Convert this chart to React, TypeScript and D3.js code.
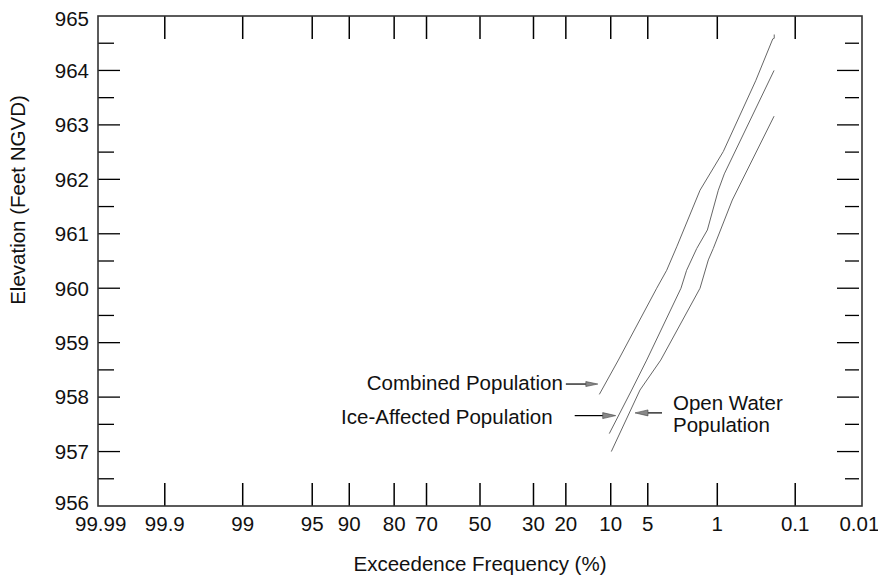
import * as d3 from 'd3';

// exceedance frequency (%) and elevation (ft NGVD)
const combinedFreq = [12.1, 8.75, 4.16, 3.36, 2.69, 1.55, 0.854, 0.344, 0.205, 0.196, 0.196];
const combinedElev = [958.05, 958.68, 960.0, 960.33, 960.76, 961.8, 962.51, 963.81, 964.58, 964.59, 964.66];

const iceFreq = [10.25, 6.85, 5.11, 2.44, 2.14, 1.68, 1.29, 0.974, 0.831, 0.197];
const iceElev = [957.33, 958.13, 958.68, 960.0, 960.33, 960.73, 961.07, 961.8, 962.1, 964.0];

const openFreq = [9.9, 5.84, 3.82, 1.55, 1.26, 1.11, 0.669, 0.197];
const openElev = [957.0, 958.13, 958.68, 960.0, 960.52, 960.73, 961.62, 963.16];

const xTicks = [99.99, 99.9, 99, 95, 90, 80, 70, 50, 30, 20, 10, 5, 1, 0.1, 0.01];
const yTicks = d3.range(956, 966, 1);
const yMinorTicks = d3.range(956.5, 965, 1);

const W = 878;
const H = 575;
const margin = { top: 16, right: 16, bottom: 69, left: 98 };
const font = 'Arial, "Liberation Sans", Helvetica, sans-serif';

// Acklam's inverse normal CDF, used for the probability axis
function invNorm(p: number): number {
  const a = [-39.69683028665376, 220.9460984245205, -275.9285104469687, 138.357751867269, -30.66479806614716, 2.506628277459239];
  const b = [-54.47609879822406, 161.5858368580409, -155.6989798598866, 66.80131188771972, -13.28068155288572];
  const c = [-0.007784894002430293, -0.3223964580411365, -2.400758277161838, -2.549732539343734, 4.374664141464968, 2.938163982698783];
  const d = [0.007784695709041462, 0.3224671290700398, 2.445134137142996, 3.754408661907416];
  const pl = 0.02425;
  if (p < pl) {
    const q = Math.sqrt(-2 * Math.log(p));
    return (((((c[0] * q + c[1]) * q + c[2]) * q + c[3]) * q + c[4]) * q + c[5]) /
      ((((d[0] * q + d[1]) * q + d[2]) * q + d[3]) * q + 1);
  }
  if (p > 1 - pl) {
    const q = Math.sqrt(-2 * Math.log(1 - p));
    return -(((((c[0] * q + c[1]) * q + c[2]) * q + c[3]) * q + c[4]) * q + c[5]) /
      ((((d[0] * q + d[1]) * q + d[2]) * q + d[3]) * q + 1);
  }
  const q = p - 0.5;
  const r = q * q;
  return (((((a[0] * r + a[1]) * r + a[2]) * r + a[3]) * r + a[4]) * r + a[5]) * q /
    (((((b[0] * r + b[1]) * r + b[2]) * r + b[3]) * r + b[4]) * r + 1);
}

const zOf = (freq: number) => invNorm(1 - freq / 100);

export default function App() {
  const x0 = margin.left;
  const x1 = W - margin.right;
  const y0 = margin.top;
  const y1 = H - margin.bottom;

  const zScale = d3.scaleLinear().domain([-3.745, 3.745]).range([x0, x1]);
  const x = (f: number) => zScale(zOf(f));
  const y = d3.scaleLinear().domain([956, 965]).range([y1, y0]);

  const line = d3
    .line<[number, number]>()
    .x((d) => x(d[0]))
    .y((d) => y(d[1]));

  const series = [
    { name: 'combined', f: combinedFreq, e: combinedElev },
    { name: 'ice', f: iceFreq, e: iceElev },
    { name: 'open', f: openFreq, e: openElev },
  ];

  // arrow tips in data units
  const combTip = [x(12.4), y(958.24)];
  const iceTip = [x(9.17), y(957.66)];
  const openTip = [x(6.43), y(957.71)];

  const headR = (tx: number, ty: number, len: number, hw: number) =>
    `M${tx},${ty} L${tx - len},${ty - hw} L${tx - len},${ty + hw} Z`;
  const headL = (tx: number, ty: number, len: number, hw: number) =>
    `M${tx},${ty} L${tx + len},${ty - hw} L${tx + len},${ty + hw} Z`;

  const fs = 20.5;

  return (
    <svg width={W} height={H} style={{ position: 'absolute', left: 0, top: 0, background: '#fff' }} fontFamily={font}>
      {/* x ticks top and bottom */}
      {xTicks.slice(1, -1).map((t) => (
        <g key={'xt' + t} stroke="#000" strokeWidth={1.5}>
          <line x1={x(t)} x2={x(t)} y1={y0} y2={y0 + 23} />
          <line x1={x(t)} x2={x(t)} y1={y1} y2={y1 - 23} />
        </g>
      ))}
      {xTicks.map((t) => (
        <text key={'xl' + t} x={x(t)} y={y1 + 25} fontSize={fs} textAnchor="middle" fill="#111">
          {t}
        </text>
      ))}

      {/* y ticks left and right */}
      {yTicks.slice(1, -1).map((t) => (
        <g key={'yt' + t} stroke="#000" strokeWidth={1.3}>
          <line x1={x0} x2={x0 + 22} y1={y(t)} y2={y(t)} />
          <line x1={x1 - 3} x2={x1 - 25} y1={y(t)} y2={y(t)} />
        </g>
      ))}
      {yMinorTicks.map((t) => (
        <g key={'ym' + t} stroke="#000" strokeWidth={1.3}>
          <line x1={x0} x2={x0 + 16} y1={y(t)} y2={y(t)} />
          <line x1={x1 - 3} x2={x1 - 17} y1={y(t)} y2={y(t)} />
        </g>
      ))}
      {yTicks.map((t, i) => (
        <text
          key={'yl' + t}
          x={x0 - 9}
          y={y(t) + fs * 0.36 + (i === yTicks.length - 1 ? 3 : i === 0 ? -3.5 : 0)}
          fontSize={fs}
          textAnchor="end"
          fill="#111"
        >
          {t}
        </text>
      ))}

      {/* frame */}
      <rect x={x0} y={y0} width={x1 - x0} height={y1 - y0} fill="none" stroke="#333" strokeWidth={1.6} />

      {/* curves */}
      {series.map((s) => (
        <path
          key={s.name}
          d={line(s.f.map((f, i) => [f, s.e[i]] as [number, number])) || ''}
          fill="none"
          stroke="#666"
          strokeWidth={1}
        />
      ))}

      {/* annotations */}
      <line x1={combTip[0] - 32} x2={combTip[0] - 8} y1={combTip[1]} y2={combTip[1]} stroke="#000" strokeWidth={1.2} />
      <path d={headR(combTip[0], combTip[1], 12, 2.5)} fill="#888" stroke="#444" strokeWidth={0.6} />
      <text x={combTip[0] - 35} y={combTip[1] + 6} fontSize={fs} textAnchor="end" fill="#111">
        Combined Population
      </text>

      <line x1={iceTip[0] - 41} x2={iceTip[0] - 10} y1={iceTip[1]} y2={iceTip[1]} stroke="#000" strokeWidth={1.2} />
      <path d={headR(iceTip[0], iceTip[1], 13, 3)} fill="#888" stroke="#444" strokeWidth={0.6} />
      <text x={iceTip[0] - 63} y={iceTip[1] + 8} fontSize={fs} textAnchor="end" fill="#111">
        Ice-Affected Population
      </text>

      <line x1={openTip[0] + 27} x2={openTip[0] + 10} y1={openTip[1]} y2={openTip[1]} stroke="#000" strokeWidth={1.2} />
      <path d={headL(openTip[0], openTip[1], 13, 3)} fill="#888" stroke="#444" strokeWidth={0.6} />
      <text x={openTip[0] + 38} y={openTip[1] - 3} fontSize={fs} fill="#111">
        Open Water
      </text>
      <text x={openTip[0] + 38} y={openTip[1] + 19} fontSize={fs} fill="#111">
        Population
      </text>

      {/* axis titles */}
      <text x={(x0 + x1) / 2} y={571} fontSize={fs} textAnchor="middle" fill="#111">
        Exceedence Frequency (%)
      </text>
      <text transform={`translate(25,${200}) rotate(-90)`} fontSize={fs} textAnchor="middle" fill="#111">
        Elevation (Feet NGVD)
      </text>
    </svg>
  );
}
